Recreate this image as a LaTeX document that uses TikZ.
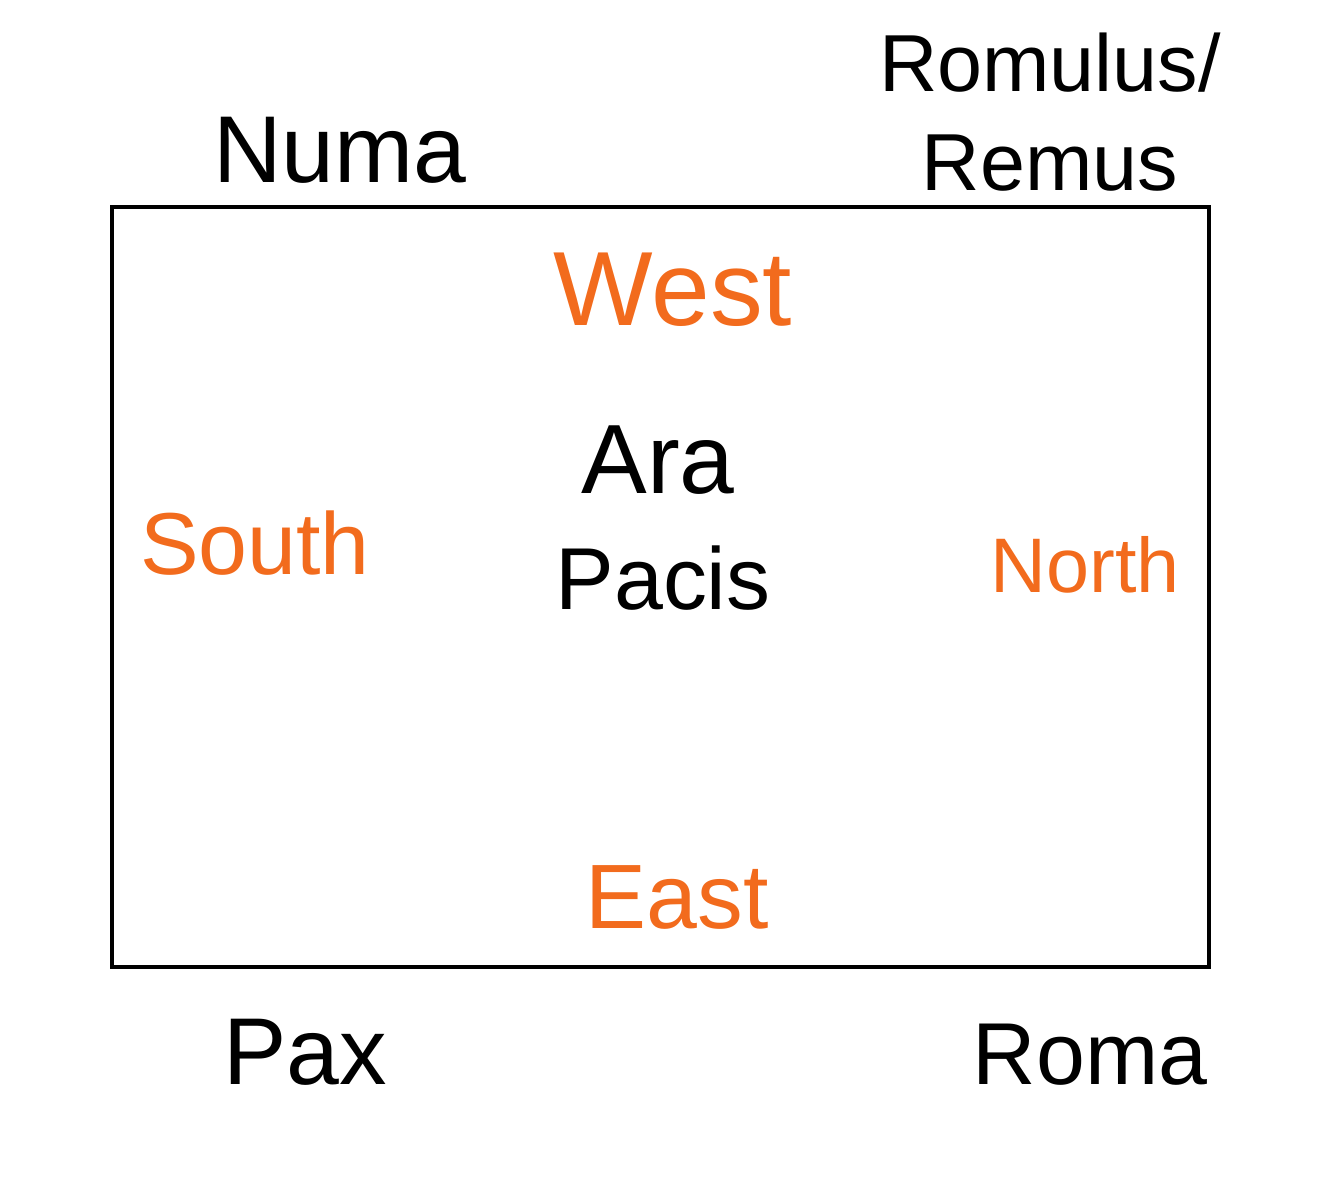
\documentclass[tikz,border=0pt]{standalone}
\usepackage{fontspec}
\setmainfont{Liberation Sans}
\definecolor{dirorange}{HTML}{F26B1D}
\begin{document}
\begin{tikzpicture}[x=0.01cm,y=-0.01cm,
  lbl/.style={font=\fontsize{26}{30}\selectfont, text=black, inner sep=0pt},
  dir/.style={lbl, text=dirorange},
  frame/.style={draw=black, line width=0.9pt}]
\useasboundingbox (0,0) rectangle (1338,1179);
\node[frame, minimum width=1097*0.01cm, minimum height=760*0.01cm, inner sep=0pt] (box) at (660.5,587) {};
\node[lbl, font=\fontsize{27}{30}\selectfont] (numa) at (340,150) {Numa};
\node[lbl, align=center, font=\fontsize{23}{28}\selectfont] (romulus) at (1050,112) {Romulus/\\Remus};
\node[dir, font=\fontsize{30}{30}\selectfont] (west) at (673,290) {West};
\node[lbl, font=\fontsize{28}{30}\selectfont] (ara) at (658,460) {Ara};
\node[lbl, font=\fontsize{25}{30}\selectfont] (pacis) at (663,578) {Pacis};
\node[dir, font=\fontsize{25}{30}\selectfont] (south) at (255,543) {South};
\node[dir, font=\fontsize{22}{30}\selectfont] (north) at (1085,565) {North};
\node[dir] (east) at (677,897) {East};
\node[lbl, font=\fontsize{27}{36}\selectfont] (pax) at (305,1052) {Pax};
\node[lbl, font=\fontsize{25}{36}\selectfont] (roma) at (1090,1055) {Roma};
\end{tikzpicture}
\end{document}
